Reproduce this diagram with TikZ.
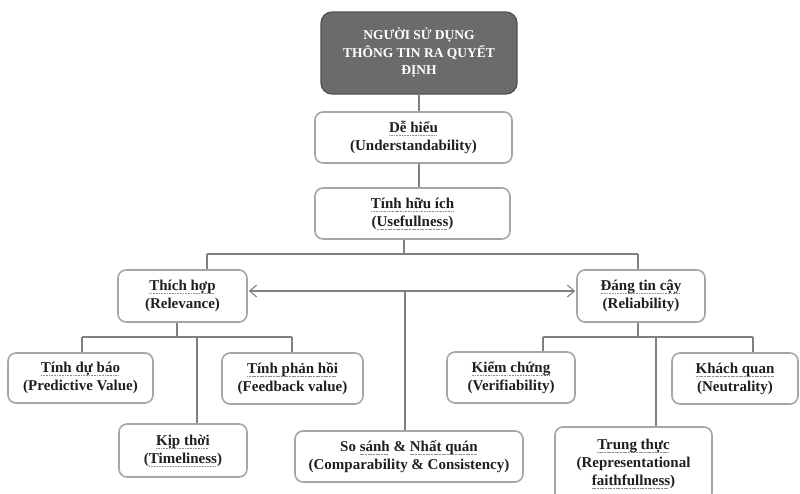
\documentclass[tikz,border=0pt]{standalone}
\usepackage{fontspec}
\setmainfont{Liberation Serif}
\usetikzlibrary{arrows.meta}
\newcommand\squig[1]{\setbox0\hbox{#1}\rlap{\lower3.4pt\hbox to\wd0{\color{black!45}\leaders\hbox{\rule{1.1pt}{0.7pt}\kern0.5pt}\hfill}}\box0\relax}
\begin{document}
\begin{tikzpicture}[x=1pt,y=-1pt,
  box/.style={draw=black!35, line width=1.6pt, rounded corners=8pt, fill=white, align=center,
    font=\bfseries\fontsize{15}{18}\selectfont, text=black!88, inner sep=0pt},
  topbox/.style={draw=black!68, fill=black!58, line width=1.2pt, rounded corners=11pt, align=center,
    text=white, font=\bfseries\fontsize{13.5}{17.5}\selectfont, inner sep=0pt},
  conn/.style={draw=black!50, line width=1.1pt},
  tip/.style={{Straight Barb[length=7pt,width=12pt]}-{Straight Barb[length=7pt,width=12pt]}, shorten <=1pt, shorten >=1pt},
]
\useasboundingbox (0,0) rectangle (800,493);
\clip (0,0) rectangle (800,493);
\fill[white] (0,0) rectangle (800,493);

\node[topbox, minimum width=196, minimum height=82] (top) at (419,53) {NGƯỜI SỬ DỤNG\\THÔNG TIN RA QUYẾT\\ĐỊNH};
\node[box, minimum width=197, minimum height=51] (de) at (413.5,137.5) {\squig{Dễ hiểu}\\(Understandability)};
\node[box, minimum width=195, minimum height=51] (tinh) at (412.5,213.5) {\squig{Tính hữu ích}\\(\squig{Usefullness})};
\node[box, minimum width=129, minimum height=52] (thich) at (182.5,296) {\squig{Thích hợp}\\(Relevance)};
\node[box, minimum width=128, minimum height=52] (dang) at (641,296) {\squig{Đáng tin cậy}\\(Reliability)};
\node[box, minimum width=145, minimum height=50] (dubao) at (80.5,378) {\squig{Tính dự báo}\\(Predictive Value)};
\node[box, minimum width=141, minimum height=51] (phanhoi) at (292.5,378.5) {\squig{Tính phản hồi}\\(Feedback value)};
\node[box, minimum width=128, minimum height=53] (kip) at (183,450.5) {\squig{Kịp thời}\\(\squig{Timeliness})};
\node[box, minimum width=228, minimum height=51] (sosanh) at (409,456.5) {So \squig{sánh} \& \squig{Nhất quán}\\(Comparability \& Consistency)};
\node[box, minimum width=128, minimum height=51] (kiem) at (511,377.5) {\squig{Kiểm chứng}\\(Verifiability)};
\node[box, minimum width=126, minimum height=51] (khach) at (735,378.5) {\squig{Khách quan}\\(Neutrality)};
\node[box, minimum width=157, minimum height=74] (trung) at (633.5,464) {\squig{Trung thực}\\(Representational\\\squig{faithfullness})};

\coordinate (b1) at (404,254);
\coordinate (bl) at (207,254);
\coordinate (br) at (638,254);
\coordinate (a) at (405,291);
\coordinate (l0) at (177,337);
\coordinate (l1) at (82,337);
\coordinate (l2) at (292,337);
\coordinate (l3) at (197,337);
\coordinate (r0) at (638,337);
\coordinate (r1) at (543,337);
\coordinate (r2) at (753,337);
\coordinate (r3) at (656,337);

\draw[conn] (top.south) -- (de.north -| top.south);
\draw[conn] (de.south -| top.south) -- (tinh.north -| top.south);
\draw[conn] (tinh.south -| b1) -- (b1);
\draw[conn] (bl) -- (br);
\draw[conn] (bl) -- (bl |- thich.north);
\draw[conn] (br) -- (br |- dang.north);
\draw[conn, tip] (thich.east |- a) -- (dang.west |- a);
\draw[conn] (a) -- (a |- sosanh.north);

\draw[conn] (thich.south -| l0) -- (l0);
\draw[conn] (l1) -- (l2);
\draw[conn] (l1) -- (l1 |- dubao.north);
\draw[conn] (l2) -- (l2 |- phanhoi.north);
\draw[conn] (l3) -- (l3 |- kip.north);

\draw[conn] (dang.south -| r0) -- (r0);
\draw[conn] (r1) -- (r2);
\draw[conn] (r1) -- (r1 |- kiem.north);
\draw[conn] (r2) -- (r2 |- khach.north);
\draw[conn] (r3) -- (r3 |- trung.north);
\end{tikzpicture}
\end{document}
